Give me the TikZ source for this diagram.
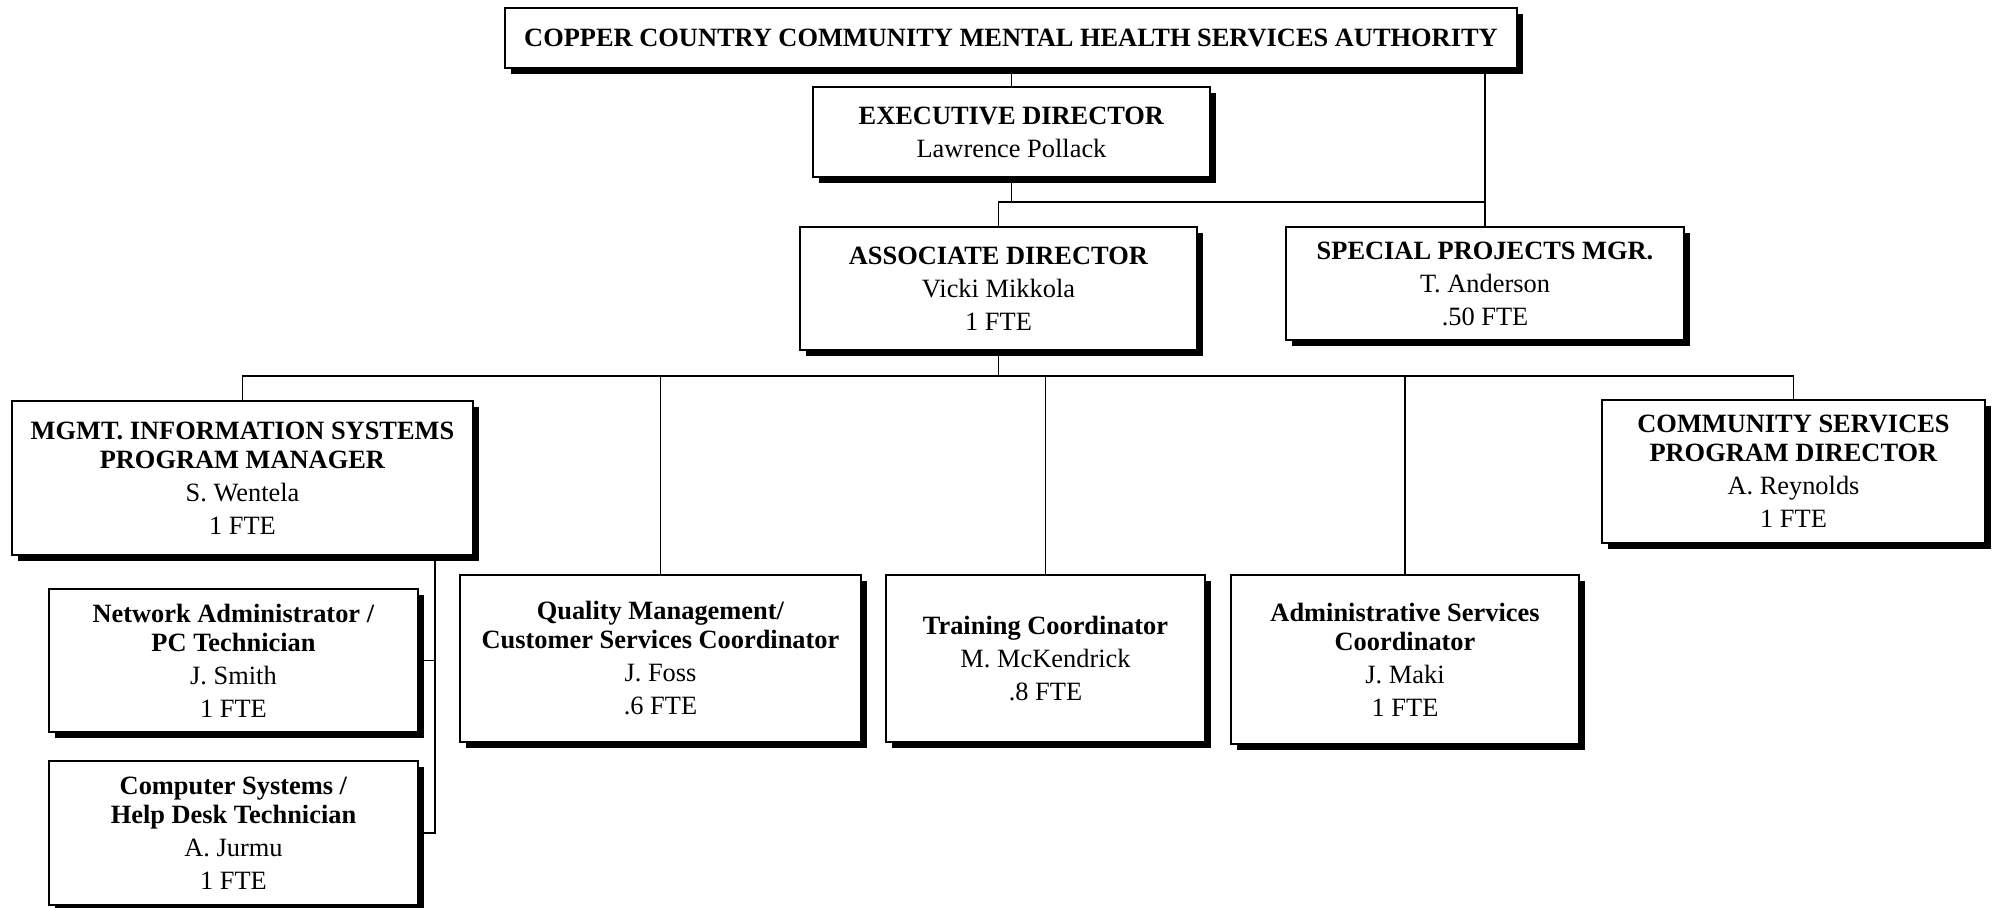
\documentclass[tikz,border=0pt]{standalone}
\usepackage{fontspec}
\setmainfont{Liberation Serif}
\usetikzlibrary{positioning, shadows}

\begin{document}
\begin{tikzpicture}[x=0.5pt, y=-0.5pt,
    box/.style={draw, line width=1pt, fill=white, align=center, inner sep=0pt,
        font=\fontsize{13.2}{14.5}\selectfont,
        drop shadow={shadow xshift=3pt, shadow yshift=-3pt, fill=black, opacity=1}},
    link/.style={line width=0.9pt}]
\useasboundingbox (0,0) rectangle (1995,907);

\node[box, minimum width=506pt, minimum height=30pt] (cccmhsa) at (1011,38)
    {\textbf{COPPER COUNTRY COMMUNITY MENTAL HEALTH SERVICES AUTHORITY}};
\node[box, minimum width=198.5pt, minimum height=45pt] (exec) at (1011.5,132)
    {\textbf{EXECUTIVE DIRECTOR}\\[2pt] Lawrence Pollack};
\node[box, minimum width=198.5pt, minimum height=61.5pt] (assoc) at (998.5,288.5)
    {\textbf{ASSOCIATE DIRECTOR}\\[2pt] Vicki Mikkola\\[2pt] 1 FTE};
\node[box, minimum width=199pt, minimum height=56.5pt] (special) at (1485,283.5)
    {\textbf{SPECIAL PROJECTS MGR.}\\[2pt] T. Anderson\\[2pt] .50 FTE};

% second row
\node[box, minimum width=230.5pt, minimum height=77pt] (mis) at (242.5,478)
    {\textbf{MGMT. INFORMATION SYSTEMS}\\ \textbf{PROGRAM MANAGER}\\[2pt] S. Wentela\\[2pt] 1 FTE};
\node[box, minimum width=191.5pt, minimum height=71.5pt] (comm) at (1793.5,471.5)
    {\textbf{COMMUNITY SERVICES}\\ \textbf{PROGRAM DIRECTOR}\\[2pt] A. Reynolds\\[2pt] 1 FTE};
\node[box, minimum width=200.5pt, minimum height=83.5pt] (quality) at (660.5,658.5)
    {\textbf{Quality Management/}\\ \textbf{Customer Services Coordinator}\\[2pt] J. Foss\\[2pt] .6 FTE};
\node[box, minimum width=159.5pt, minimum height=83.5pt] (training) at (1045.5,658.5)
    {\textbf{Training Coordinator}\\[2pt] M. McKendrick\\[2pt] .8 FTE};
\node[box, minimum width=174pt, minimum height=84.5pt] (admin) at (1405,659.5)
    {\textbf{Administrative Services}\\ \textbf{Coordinator}\\[2pt] J. Maki\\[2pt] 1 FTE};

% under MIS
\node[box, minimum width=184.5pt, minimum height=71.5pt] (network) at (233.5,660.5)
    {\textbf{Network Administrator /}\\ \textbf{PC Technician}\\[2pt] J. Smith\\[2pt] 1 FTE};
\node[box, minimum width=184.5pt, minimum height=72pt] (computer) at (233.5,833)
    {\textbf{Computer Systems /}\\ \textbf{Help Desk Technician}\\[2pt] A. Jurmu\\[2pt] 1 FTE};

\coordinate (b1) at (0,202);
\coordinate (b2) at (0,376);
\coordinate (misdrop) at (435,0);

\begin{scope}[on background layer/.try, link]
    \draw (cccmhsa.south -| exec.north) -- (exec.north);
    \draw (special.north |- cccmhsa.south) -- (special.north);
    \draw (exec.south) -- (exec.south |- b1);
    \draw (assoc.north) -- (assoc.north |- b1) -- (special.north |- b1);
    \draw (assoc.south) -- (assoc.south |- b2);
    \draw (mis.north) -- (mis.north |- b2) -- (comm.north |- b2) -- (comm.north);
    \foreach \n in {quality, training, admin}
        \draw (\n.north) -- (\n.north |- b2);
    \draw (mis.south -| misdrop) |- (computer.east);
    \draw (network.east) -- (network.east -| misdrop);
\end{scope}
\end{tikzpicture}
\end{document}
